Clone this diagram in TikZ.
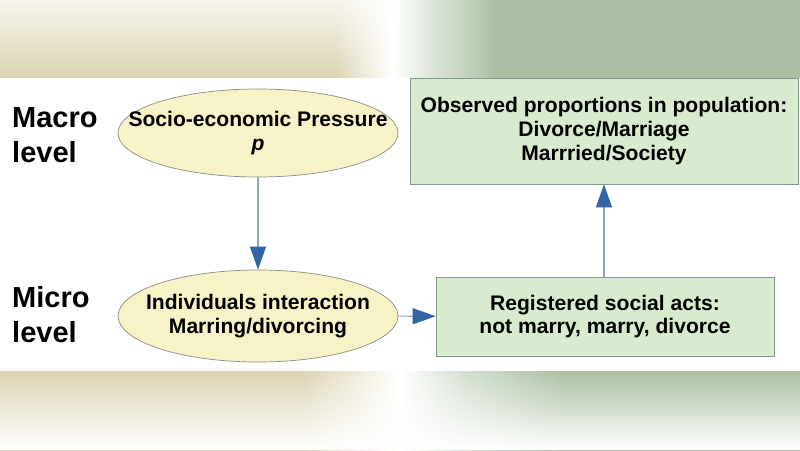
\documentclass[tikz,border=0pt]{standalone}
\usepackage{fontspec}
\setmainfont{Liberation Sans}
\usetikzlibrary{arrows.meta,shapes.geometric,fadings}

\definecolor{ellfill}{HTML}{F8F3C6}
\definecolor{ellline}{HTML}{8C8C84}
\definecolor{boxfill}{HTML}{D9EBCF}
\definecolor{boxline}{HTML}{7E9A8C}
\definecolor{arrline}{HTML}{92A6C4}
\definecolor{arrhead}{HTML}{3465A4}
\definecolor{creamband}{HTML}{DCD5B2}
\definecolor{greenband}{HTML}{ABC0A2}

\pgfdeclarehorizontalshading{topband}{100bp}{color(0bp)=(creamband);
    color(46bp)=(creamband); color(49.5bp)=(white); color(52bp)=(white!60!greenband);
    color(56bp)=(greenband); color(100bp)=(greenband)}
\pgfdeclarehorizontalshading{botband}{100bp}{color(0bp)=(creamband!80);
    color(8bp)=(creamband); color(44bp)=(creamband); color(50bp)=(white);
    color(54bp)=(white!50!greenband); color(60bp)=(greenband); color(100bp)=(greenband)}

\begin{document}
\begin{tikzpicture}[
    ell/.style={draw=ellline, fill=ellfill, ellipse, inner xsep=-0.65cm, inner ysep=0pt,
        font=\fontsize{12}{13.5}\selectfont\bfseries, align=center},
    obsbox/.style={draw=boxline, fill=boxfill, inner sep=0pt,
        font=\fontsize{12}{13.5}\selectfont\bfseries, align=center},
    lvl/.style={anchor=west, align=left,
        font=\fontsize{16.5}{20}\selectfont\bfseries},
    flow/.style={draw=arrline, semithick,
        -{Triangle[length=0.46cm, width=0.32cm, color=arrhead]}}
]
    \useasboundingbox (0,0) rectangle (16,9);
    \fill[white] (0,0) rectangle (16,9);

    % Blurred bands
    \shade[shading=topband] (0,7.44) rectangle (16,9);
    \fill[white, path fading=south, opacity=0.75] (0,7.44) rectangle (8,9);
    \shade[shading=botband] (0,0) rectangle (16,1.58);
    \fill[white, path fading=north] (0,0) rectangle (16,1.58);

    % Level labels
    \node[lvl] (macro) at (0.12,6.3) {Macro\\level};
    \node[lvl] (micro) at (0.12,2.7) {Micro\\level};

    % Ellipses
    \node[ell, minimum width=5.6cm, minimum height=1.76cm] (press)
        at (5.16,6.34) {Socio-economic Pressure\\\textit{p}};
    \node[ell, minimum width=5.6cm, minimum height=1.84cm] (inter)
        at (5.16,2.68) {Individuals interaction\\Marring/divorcing};

    % Boxes
    \node[obsbox, minimum width=7.76cm, minimum height=2.12cm] (obs)
        at (12.08,6.38) {Observed proportions in population:\\Divorce/Marriage\\Marrried/Society};
    \node[obsbox, minimum width=6.76cm, minimum height=1.58cm] (acts)
        at (12.1,2.67) {Registered social acts:\\not marry, marry, divorce};

    % Arrows
    \draw[flow] (press) -- (inter);
    \draw[flow] (inter) -- (acts);
    \draw[flow] (acts.north -| obs.south) -- (obs.south);
\end{tikzpicture}
\end{document}
